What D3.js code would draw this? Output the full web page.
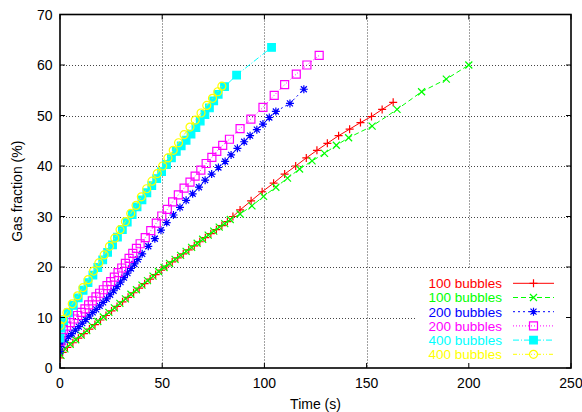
<!DOCTYPE html>
<html>
<head>
<meta charset="utf-8">
<script src="https://cdn.jsdelivr.net/npm/d3@7"></script>
<style>
body { margin: 0; background: #fff; }
svg { display: block; font-family: "Liberation Sans", Arial, Helvetica, sans-serif; }
</style>
</head>
<body>
<svg id="chart"></svg>
<script>
let width = 582, height = 412;

// [time (s), gas fraction (%)]
const run100a = [[0,2.0],[1.3,3.1],[3.6,4.1],[6.3,5.0],[9.0,5.9],[11.7,6.8],[14.4,7.7],[17.1,8.6],[19.8,9.5],
  [22.5,10.4],[25.2,11.3],[27.9,12.2],[30.6,13.1],[33.3,14.0],[36.0,14.9],[38.7,15.8],[41.4,16.7],[44.1,17.6],
  [46.8,18.5],[49.5,19.4],[52.2,20.2],[54.9,21.0],[57.6,21.8],[60.3,22.6],[63.0,23.4],[65.7,24.2],[68.4,25.0],
  [71.1,25.8],[73.8,26.6],[76.5,27.4],[79.2,28.2],[81.9,29.0],[84.6,30.0],[88.1,31.3],[93.5,33.1],[98.9,34.9],
  [104.5,36.6],[109.9,38.4],[115.3,40.0],[120.5,41.6],[125.7,43.1],[130.8,44.5],[136.3,46.0],[141.7,47.3],
  [147.0,48.6],[152.4,49.8],[157.6,51.2],[163.0,52.6]];

const run100b = [[0.5,2.5],[2.4,3.8],[5.0,4.7],[7.7,5.6],[10.4,6.5],[13.1,7.4],[15.8,8.3],[18.5,9.2],[21.2,10.1],
  [23.9,11.0],[26.6,11.9],[29.3,12.8],[32.0,13.7],[34.7,14.6],[37.4,15.5],[40.1,16.4],[42.8,17.3],[45.5,18.2],
  [48.2,19.1],[50.9,19.9],[53.6,20.7],[56.3,21.5],[59.0,22.3],[61.7,23.1],[64.4,23.9],[67.1,24.7],[69.8,25.5],
  [72.5,26.3],[75.2,27.1],[77.9,27.9],[80.6,28.6],[83.3,29.4],[88.1,30.5],[93.9,32.1],[99.6,34.0],[105.6,35.8],
  [111.3,37.6],[117.2,39.4],[123.3,41.0],[129.4,42.5],[135.2,44.1],[141.2,45.6],[152.7,47.9],[164.9,51.2],
  [176.9,54.7],[189.0,57.2],[200.0,60.0]];

const run200a = [[0,3.3],[0.8,4.6],[2.4,5.5],[4.1,6.2],[5.8,6.8],[7.5,7.5],[9.2,8.2],[10.9,8.9],[12.6,9.6],
  [14.3,10.3],[16.0,11.0],[17.7,11.6],[19.4,12.3],[21.1,13.0],[22.8,13.7],[24.5,14.5],[26.2,15.3],[27.9,16.1],
  [29.6,17.0],[31.3,17.9],[33.0,18.8],[34.7,19.7],[36.4,20.6],[38.1,21.5],[40.2,22.6],[43.2,24.1],[46.4,25.6],
  [49.4,27.3],[52.2,28.8],[55.5,30.3],[58.7,31.8],[61.7,33.2],[64.9,34.5],[68.0,35.8],[71.0,37.2],[74.2,38.4],
  [77.5,39.7],[80.8,40.9],[83.7,42.2],[86.8,43.5],[90.1,44.8],[93.0,46.0],[96.3,47.2],[99.3,48.3],[102.4,49.6],
  [105.6,50.8],[112.5,52.4],[119.3,55.2]];

const run200b = [[0,5.3],[0.6,6.6],[1.6,7.6],[3.2,8.3],[5.0,9.0],[6.8,9.7],[8.6,10.4],[10.4,11.0],[12.2,11.7],
  [14.0,12.5],[15.8,13.3],[17.6,14.1],[19.4,14.8],[21.2,15.5],[23.0,16.3],[24.8,17.1],[26.6,18.0],[28.4,18.9],
  [30.2,19.8],[32.0,20.7],[33.8,21.7],[35.6,22.7],[37.4,23.7],[39.2,24.6],[41.7,25.8],[44.4,27.2],[47.1,28.7],
  [49.8,30.1],[52.5,31.4],[55.1,32.9],[57.9,34.3],[60.7,35.6],[63.6,36.8],[66.1,38.0],[68.9,39.2],[71.5,40.5],
  [74.3,41.7],[76.7,42.9],[79.6,44.1],[82.9,45.3],[88.1,47.4],[93.4,49.3],[99.3,51.6],[104.8,54.0],[109.9,56.1],
  [115.6,58.2],[120.8,60.0],[126.8,61.9]];

const run400a = [[0,5.9],[0.5,7.9],[1.8,9.4],[4.1,10.9],[6.5,12.4],[8.9,13.9],[11.3,15.4],[13.7,16.9],[16.1,18.4],
  [18.5,19.9],[20.9,21.4],[23.3,22.9],[25.7,24.4],[28.1,25.9],[30.5,27.4],[32.9,28.9],[35.3,30.4],[37.7,31.9],
  [40.1,33.3],[42.5,34.7],[44.9,36.1],[47.3,37.5],[49.7,38.9],[52.1,40.3],[54.5,41.6],[56.9,42.9],[59.3,44.0],
  [61.7,45.1],[64.1,46.3],[66.5,47.6],[68.6,48.9],[70.9,50.2],[73.1,51.5],[75.2,52.9],[77.4,54.2],[80.5,55.7],
  [86.4,58.0],[103.5,63.5]];

const run400b = [[0,8.4],[1.2,9.6],[3.4,11.0],[6.0,12.7],[8.6,14.3],[11.2,15.9],[13.8,17.5],[16.4,19.2],[19.0,20.8],
  [21.6,22.4],[24.2,24.1],[26.8,25.7],[29.4,27.4],[32.0,29.0],[34.6,30.6],[37.2,32.2],[39.8,33.9],[42.4,35.5],
  [45.0,37.0],[47.6,38.5],[50.2,40.0],[52.8,41.6],[55.4,43.1],[58.0,44.6],[60.7,46.2],[63.6,47.7],[66.2,49.1],
  [69.0,50.5],[71.8,52.0],[74.6,53.4],[77.2,54.7],[79.2,55.8]];

const runs = [run100a, run100b, run200a, run200b, run400a, run400b];
const labels = ["100 bubbles", "100 bubbles", "200 bubbles", "200 bubbles", "400 bubbles", "400 bubbles"];
const xTicks = [0, 50, 100, 150, 200, 250];
const yTicks = [0, 10, 20, 30, 40, 50, 60, 70];

// gnuplot-like line types
const styles = [
  { color: "#ff0000", dash: null,           mark: "plus" },
  { color: "#00ff00", dash: "5,3",          mark: "cross" },
  { color: "#0000ff", dash: "2,3",          mark: "star" },
  { color: "#ff00ff", dash: "1,2",          mark: "box" },
  { color: "#00ffff", dash: "6,2,1,2",      mark: "fbox" },
  { color: "#ffff00", dash: "4,2,1,2,1,2",  mark: "circle" }
];

const markPaths = {
  plus: "M-4,0H4M0,-4V4",
  cross: "M-3.5,-3.5L3.5,3.5M-3.5,3.5L3.5,-3.5",
  star: "M-4,0H4M0,-4V4M-3,-3L3,3M-3,3L3,-3",
  box: "M-4,-4H4V4H-4Z",
  fbox: "M-3.8,-3.8H3.8V3.8H-3.8Z",
  circle: "M4,0A4,4 0 1,1 -4,0A4,4 0 1,1 4,0Z"
};

const plot = { left: 60, right: 571, top: 14.5, bottom: 368 };

let svg = d3.select("#chart")
  .attr("width", width)
  .attr("height", height);

svg.append("rect").attr("width", width).attr("height", height).attr("fill", "#fff");

let x = d3.scaleLinear().domain([0, 250]).range([plot.left, plot.right]);
let y = d3.scaleLinear().domain([0, 70]).range([plot.bottom, plot.top]);

// dotted grid
let grid = svg.append("g").attr("stroke", "#444").attr("stroke-dasharray", "1,2").attr("stroke-width", 1);
grid.selectAll("line.gx")
  .data(xTicks.slice(1, -1))
  .join("line")
  .attr("x1", d => Math.round(x(d)) + 0.5).attr("x2", d => Math.round(x(d)) + 0.5)
  .attr("y1", plot.top).attr("y2", plot.bottom);
grid.selectAll("line.gy")
  .data(yTicks.slice(1, -1))
  .join("line")
  .attr("y1", d => Math.round(y(d)) + 0.5).attr("y2", d => Math.round(y(d)) + 0.5)
  .attr("x1", plot.left).attr("x2", plot.right);

// key area blanks the grid
svg.append("rect")
  .attr("x", 417).attr("y", 268)
  .attr("width", plot.right - 417).attr("height", plot.bottom - 268)
  .attr("fill", "#fff");

svg.append("clipPath").attr("id", "clip")
  .append("rect")
  .attr("x", plot.left).attr("y", plot.top)
  .attr("width", plot.right - plot.left).attr("height", plot.bottom - plot.top);

let line = d3.line().x(d => x(d[0])).y(d => y(d[1]));

let series = svg.append("g").attr("clip-path", "url(#clip)");
runs.forEach((run, i) => {
  let st = styles[i];
  let g = series.append("g");
  g.append("path")
    .datum(run)
    .attr("d", line)
    .attr("fill", "none")
    .attr("stroke", st.color)
    .attr("stroke-width", 1)
    .attr("stroke-dasharray", st.dash);
  g.selectAll("path.pt")
    .data(run)
    .join("path")
    .attr("class", "pt")
    .attr("transform", d => `translate(${x(d[0])},${y(d[1])})`)
    .attr("d", markPaths[st.mark])
    .attr("fill", st.mark == "fbox" ? st.color : "none")
    .attr("stroke", st.color)
    .attr("stroke-width", 1.2);
});

// key
let key = svg.append("g");
labels.forEach((label, i) => {
  let st = styles[i];
  let ky = 283.3 + i * 14.2;
  key.append("text")
    .attr("x", 502).attr("y", ky + 4.8)
    .attr("text-anchor", "end")
    .attr("font-size", 13.5)
    .attr("fill", st.color)
    .text(label);
  key.append("line")
    .attr("x1", 513).attr("x2", 554)
    .attr("y1", ky).attr("y2", ky)
    .attr("stroke", st.color)
    .attr("stroke-dasharray", st.dash);
  key.append("path")
    .attr("transform", `translate(533.5,${ky})`)
    .attr("d", markPaths[st.mark])
    .attr("fill", st.mark == "fbox" ? st.color : "none")
    .attr("stroke", st.color)
    .attr("stroke-width", 1.2);
});

// border with inward ticks on all sides
let axes = svg.append("g").attr("stroke", "#000");
axes.append("rect")
  .attr("x", plot.left).attr("y", plot.top)
  .attr("width", plot.right - plot.left).attr("height", plot.bottom - plot.top)
  .attr("fill", "none").attr("stroke-width", 1.6);
xTicks.forEach(t => {
  axes.append("line").attr("x1", x(t)).attr("x2", x(t)).attr("y1", plot.bottom).attr("y2", plot.bottom - 5);
  axes.append("line").attr("x1", x(t)).attr("x2", x(t)).attr("y1", plot.top).attr("y2", plot.top + 5);
});
yTicks.forEach(t => {
  axes.append("line").attr("y1", y(t)).attr("y2", y(t)).attr("x1", plot.left).attr("x2", plot.left + 5);
  axes.append("line").attr("y1", y(t)).attr("y2", y(t)).attr("x1", plot.right).attr("x2", plot.right - 5);
});

svg.append("g").selectAll("text")
  .data(xTicks)
  .join("text")
  .attr("x", d => x(d)).attr("y", 387.5)
  .attr("text-anchor", "middle")
  .attr("font-size", 14)
  .text(d => d);

svg.append("g").selectAll("text")
  .data(yTicks)
  .join("text")
  .attr("x", 52.5).attr("y", d => y(d) + 5)
  .attr("text-anchor", "end")
  .attr("font-size", 14)
  .text(d => d);

svg.append("text")
  .attr("x", (plot.left + plot.right) / 2).attr("y", 409)
  .attr("text-anchor", "middle")
  .attr("font-size", 14)
  .text("Time (s)");

svg.append("text")
  .attr("transform", `translate(22,${(plot.top + plot.bottom) / 2}) rotate(-90)`)
  .attr("text-anchor", "middle")
  .attr("font-size", 14)
  .text("Gas fraction (%)");
</script>
</body>
</html>
